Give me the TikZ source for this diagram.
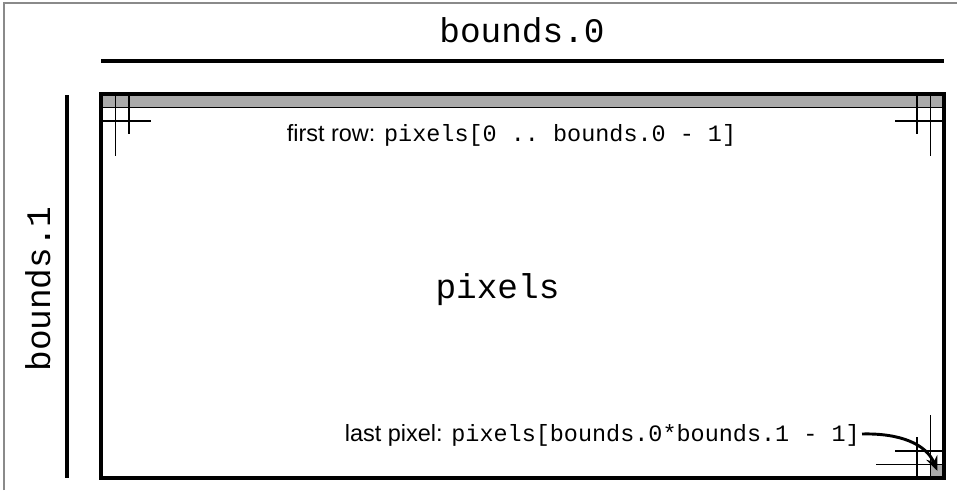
\documentclass[tikz,border=0pt]{standalone}
\usepackage{fontspec}
\setmainfont{Liberation Sans}
\setmonofont{Liberation Mono}
\usetikzlibrary{positioning,arrows.meta}
\definecolor{cellgray}{HTML}{AAAAAA}
\definecolor{framegray}{HTML}{8A8A8A}

\begin{document}
\begin{tikzpicture}[x=0.75pt,y=-0.75pt,
	every node/.style={inner sep=0pt},
	bigtext/.style={font=\fontsize{25.8}{30}\selectfont\ttfamily},
	smalltext/.style={font=\fontsize{17.6}{20}\selectfont},
	gridline/.style={line width=1.1pt},
	boldline/.style={line width=2.6pt}]
	\useasboundingbox (0,0) rectangle (957,490);
	\draw[framegray,line width=1.1pt] (4,490) -- (4,3) -- (957,3);

	% sizes along both axes
	\node[bigtext,anchor=base]           (BoundsX) at (522,42)  {bounds.0};
	\node[bigtext,anchor=base,rotate=90] (BoundsY) at (50,289)  {bounds.1};
	\draw[boldline] (101,61) -- (944,61);
	\draw[boldline] (67,95) -- (67,478);

	% first row and its cells
	\filldraw[fill=cellgray,gridline] (101,94) rectangle (944,107.5);
	\draw[gridline] (115.5,94) -- (115.5,156) (129,94) -- (129,134) (101,121) -- (151,121);
	\draw[gridline] (917,94) -- (917,134) (930.5,94) -- (930.5,156) (895,121) -- (944,121);

	% last pixel
	\fill[cellgray] (930.5,464.5) rectangle (944,478);
	\draw[gridline] (930.5,415) -- (930.5,478) (917,437) -- (917,478) (895,451) -- (944,451) (876,464.5) -- (944,464.5);
	\draw[boldline] (101,94) rectangle (944,478);

	\node[smalltext,anchor=base] (FirstRow)  at (511.5,141) {first row: \texttt{pixels[0 .. bounds.0 - 1]}};
	\node[bigtext,anchor=base]   (Pixels)    at (497.5,298) {pixels};
	\node[smalltext,anchor=base east] (LastPixel) at (860,441) {last pixel: \texttt{pixels[bounds.0*bounds.1 - 1]}};
	\coordinate (LastCell) at (937.5,471);

	\draw[-{Stealth[length=11pt,width=9pt]},line width=2.2pt]
		(LastPixel.base east) ++(2,-7) .. controls (900,433) and (926,444) .. (LastCell);
\end{tikzpicture}
\end{document}
